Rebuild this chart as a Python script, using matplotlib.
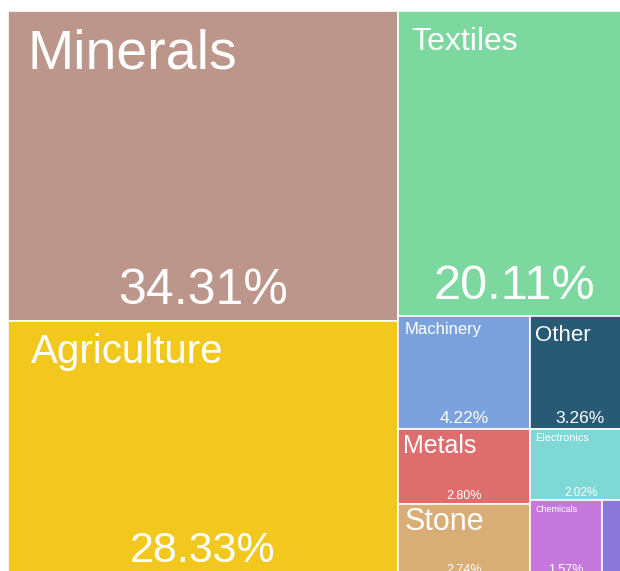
import matplotlib
matplotlib.use("Agg")
import matplotlib.pyplot as plt
from matplotlib.patches import Rectangle

# Export shares by product group (percent of total)
categories = ["Minerals", "Agriculture", "Textiles", "Machinery", "Other",
              "Metals", "Stone", "Electronics", "Chemicals", "Plastics"]
shares = [34.31, 28.33, 20.11, 4.22, 3.26, 2.80, 2.74, 2.02, 1.57, 0.64]

# Styling
tile_colors = ["#bc968a", "#f2c81f", "#7dd8a0", "#7ba2dc", "#285a75",
               "#de6e6e", "#d9ae76", "#7dd8d6", "#c679dc", "#8a78d8"]
name_pt = [40, 29, 23, 12, 16, 18, 22, 7.8, 6.5, 0]
value_pt = [36, 31, 35, 12.5, 12.5, 9, 9, 8.5, 9, 0]
# inner padding of the name label: (left, top-of-capitals) in pixels
name_pad = [(19, 18), (23, 13), (13, 16), (6, 6), (5, 9),
            (5, 6), (6, 4), (5, 4), (5, 6), (0, 0)]

FIG_W, FIG_H, DPI = 620, 571, 100
# Plot area of the treemap, in pixels (extends past the canvas on the right/bottom)
MAP_X, MAP_Y, MAP_W, MAP_H = 8, 11, 623, 566


def worst_ratio(row, side):
    s = sum(row)
    return max(max(side * side * r / (s * s), s * s / (side * side * r)) for r in row)


def squarify(areas, x, y, w, h):
    rects = []
    areas = list(areas)
    while areas:
        side = min(w, h)
        row = [areas[0]]
        i = 1
        while i < len(areas) and worst_ratio(row + [areas[i]], side) <= worst_ratio(row, side):
            row.append(areas[i])
            i += 1
        areas = areas[i:]
        s = sum(row)
        if w >= h:
            cw = s / h
            yy = y
            for a in row:
                rh = a / cw
                rects.append((x, yy, cw, rh))
                yy += rh
            x += cw
            w -= cw
        else:
            rh = s / w
            xx = x
            for a in row:
                rw = a / rh
                rects.append((xx, y, rw, rh))
                xx += rw
            y += rh
            h -= rh
    return rects


total = sum(shares)
areas = [v / total * MAP_W * MAP_H for v in shares]
rects = squarify(areas, MAP_X, MAP_Y, MAP_W, MAP_H)

plt.rcParams["font.family"] = ["Liberation Sans", "DejaVu Sans"]
fig = plt.figure(figsize=(FIG_W / DPI, FIG_H / DPI), dpi=DPI)
ax = fig.add_axes([0, 0, 1, 1])
ax.set_xlim(0, FIG_W)
ax.set_ylim(FIG_H, 0)
ax.axis("off")

px_per_pt = DPI / 72.0
for (x, y, w, h), name, val, col, npt, vpt, (px, py) in zip(
        rects, categories, shares, tile_colors, name_pt, value_pt, name_pad):
    ax.add_patch(Rectangle((x, y), w, h, facecolor=col, edgecolor="white",
                           linewidth=1.2))
    if w < 40 or npt == 0:
        continue
    npx = npt * px_per_pt
    ax.text(x + px, y + py + 0.716 * npx, name,
            fontsize=npt, color="white", ha="left", va="baseline")
    vpx = vpt * px_per_pt
    ax.text(x + w / 2, y + h - 0.35 * vpx, f"{val:.2f}%",
            fontsize=vpt, color="white", ha="center", va="baseline")

fig.savefig("out.png", dpi=DPI, facecolor="white")
